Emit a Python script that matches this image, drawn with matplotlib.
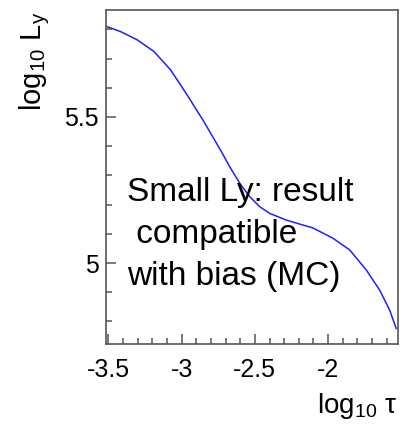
import matplotlib
matplotlib.use("Agg")
import matplotlib.pyplot as plt
from matplotlib.ticker import MultipleLocator, FixedLocator, FixedFormatter

plt.rcParams['font.family'] = ['Liberation Sans', 'DejaVu Sans']
plt.rcParams['mathtext.fontset'] = 'custom'
plt.rcParams['mathtext.rm'] = 'Liberation Sans'
plt.rcParams['mathtext.it'] = 'Liberation Sans'
plt.rcParams['mathtext.bf'] = 'Liberation Sans:bold'

# data
log_tau = [-3.508, -3.416, -3.303, -3.189, -3.075, -2.962, -2.848, -2.735,
           -2.671, -2.603, -2.535, -2.467, -2.399, -2.285, -2.171, -2.103,
           -1.967, -1.853, -1.739, -1.649, -1.580, -1.535]
log_Ly = [5.809, 5.792, 5.764, 5.724, 5.661, 5.575, 5.484, 5.387,
          5.329, 5.273, 5.227, 5.193, 5.170, 5.147, 5.130, 5.120,
          5.085, 5.045, 4.976, 4.908, 4.839, 4.776]
xticks = [-3.5, -3.0, -2.5, -2.0]
xticklabels = ['-3.5', '-3', '-2.5', '-2']
yticks = [5.0, 5.5]
yticklabels = ['5', '5.5']
note = "Small Ly: result\n compatible\nwith bias (MC)"

fig = plt.figure(figsize=(4.03, 4.33), dpi=100)
ax = fig.add_axes([106/403, 1-344/433, (398-106)/403, (344-10)/433])

ax.plot(log_tau, log_Ly, color='#2020ff', lw=1.1)

ax.set_xlim(-3.516, -1.523)
ax.set_ylim(4.723, 5.866)

ax.xaxis.set_major_locator(FixedLocator(xticks))
ax.xaxis.set_major_formatter(FixedFormatter(xticklabels))
ax.yaxis.set_major_locator(FixedLocator(yticks))
ax.yaxis.set_major_formatter(FixedFormatter(yticklabels))
ax.xaxis.set_minor_locator(MultipleLocator(0.1))
ax.yaxis.set_minor_locator(MultipleLocator(0.1))

for s in ax.spines.values():
    s.set_color('#555555')
    s.set_linewidth(1.2)

ax.tick_params(which='both', direction='in', top=False, right=False,
               color='#555555', width=1.1)
ax.tick_params(which='major', length=7)
ax.tick_params(which='minor', length=4)
ax.tick_params(axis='x', which='major', labelsize=18, pad=10)
ax.tick_params(axis='y', which='major', labelsize=18, pad=5)

fig.text(35/403, 1-12/433, r'log$_{10}$ L$_y$', rotation=90, ha='center',
         va='top', fontsize=21)
fig.text(397/403, 1-413/433, r'log$_{10}$ τ', ha='right', va='baseline',
         fontsize=20)

fig.text(127/403, 1-285/433, note, ha='left', va='baseline', fontsize=24,
         linespacing=1.46, color='black')

fig.savefig('out.png', dpi=100)
